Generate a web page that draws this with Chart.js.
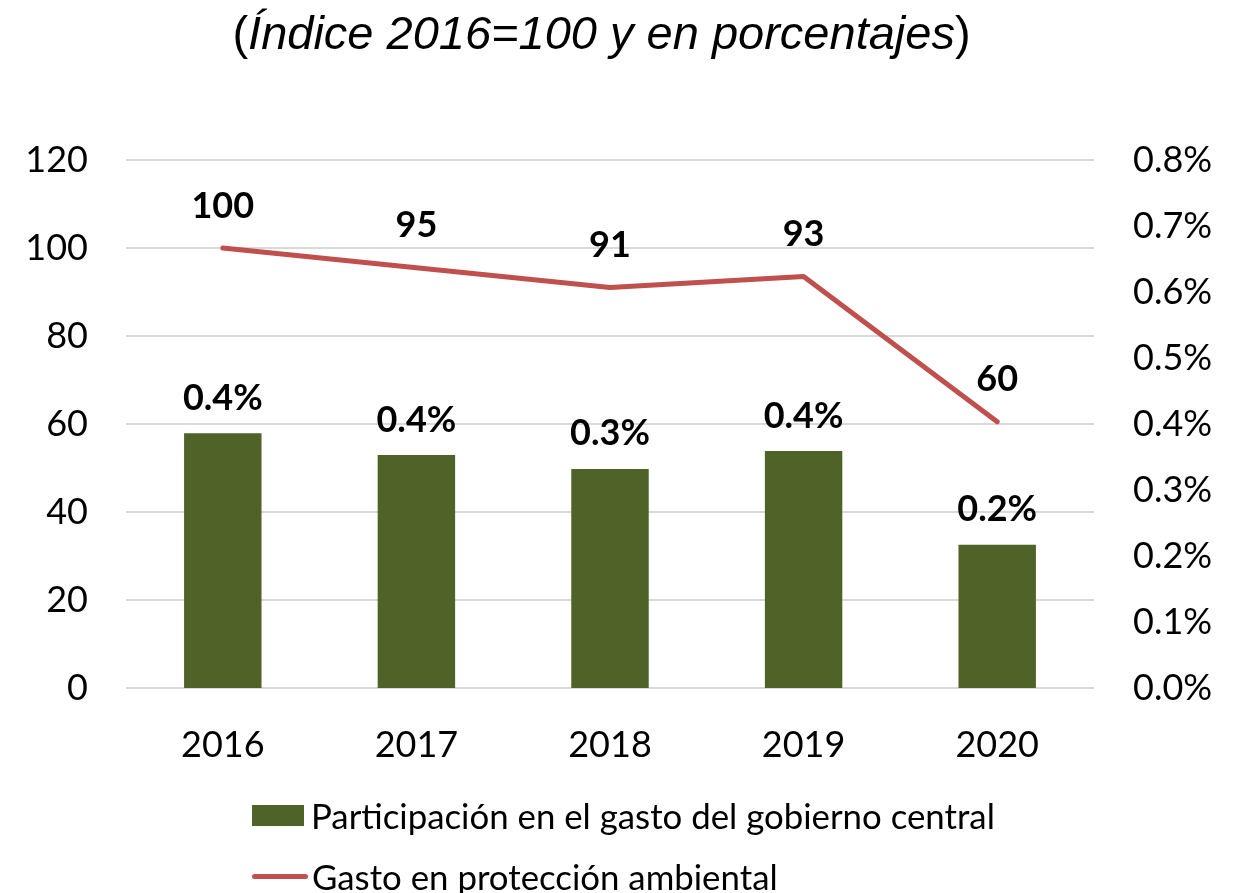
<!DOCTYPE html>
<html>
<head>
<meta charset="utf-8">
<script src="https://cdn.jsdelivr.net/npm/chart.js@4.4.1/dist/chart.umd.min.js"></script>
<style>
  html, body { margin: 0; padding: 0; background: #fff; }
  #wrap { position: relative; width: 1234px; height: 893px; overflow: hidden; }
  #c { position: absolute; left: 0; top: 0; }
  #title { position: absolute; left: 0; width: 1203px; top: 5px; text-align: center;
           font-family: "Liberation Sans", Arial, sans-serif; font-size: 47px; color: #000; white-space: nowrap; }
  #title i { font-style: italic; }
  .leg { position: absolute; left: 252px; font-family: Lato, "Noto Sans", sans-serif; font-size: 34.8px; color: #000;
         display: flex; align-items: center; white-space: nowrap; }
  .sw { display: inline-block; margin-right: 7px; }
</style>
</head>
<body>
<div id="wrap">
  <canvas id="c" width="1234" height="893"></canvas>
  <div id="title">(<i>Índice 2016=100 y en porcentajes</i>)</div>
  <div class="leg" id="leg1" style="top:794px;height:42px;"><span class="sw" style="width:52px;height:21px;background:#4F6228;"></span><span id="lt1"></span></div>
  <div class="leg" id="leg2" style="top:855px;height:42px;"><span class="sw" style="width:56px;height:5px;border-radius:3px;background:#C0504D;margin-right:4px;"></span><span id="lt2"></span></div>
</div>
<script>
const categories = ['2016', '2017', '2018', '2019', '2020'];
const barLabel = 'Participación en el gasto del gobierno central';
const lineLabel = 'Gasto en protección ambiental';
const shareValues = [0.386, 0.353, 0.332, 0.359, 0.217];     // % of central government spending
const shareLabels = ['0.4%', '0.4%', '0.3%', '0.4%', '0.2%'];
const indexValues = [100, 95.5, 91, 93.5, 60.5];              // index 2016=100
const indexLabels = ['100', '95', '91', '93', '60'];
const leftTicks = [0, 20, 40, 60, 80, 100, 120];
const rightTicks = [0, 0.1, 0.2, 0.3, 0.4, 0.5, 0.6, 0.7, 0.8];

document.getElementById('lt1').textContent = barLabel;
document.getElementById('lt2').textContent = lineLabel;

const TICK_FONT = { family: 'Lato, "Noto Sans", sans-serif', size: 36 };

const valueLabels = {
  id: 'valueLabels',
  afterDatasetsDraw(chart) {
    const ctx = chart.ctx;
    ctx.save();
    ctx.font = 'bold 36px Lato, "Noto Sans", sans-serif';
    ctx.fillStyle = '#000';
    ctx.textAlign = 'center';
    ctx.textBaseline = 'middle';
    chart.data.datasets.forEach((ds, di) => {
      const meta = chart.getDatasetMeta(di);
      meta.data.forEach((el, i) => {
        const off = ds.type === 'line' ? 42 : 35;
        ctx.fillText(ds.valueText[i], el.x, el.y - off);
      });
    });
    ctx.restore();
  }
};

new Chart(document.getElementById('c'), {
  data: {
    labels: categories,
    datasets: [
      {
        type: 'line', label: lineLabel, data: indexValues, valueText: indexLabels,
        yAxisID: 'yLeft', borderColor: '#C0504D', backgroundColor: '#C0504D',
        borderWidth: 5, pointRadius: 0, tension: 0, borderCapStyle: 'round', borderJoinStyle: 'round'
      },
      {
        type: 'bar', label: barLabel, data: shareValues, valueText: shareLabels,
        yAxisID: 'yRight', backgroundColor: '#4F6228',
        categoryPercentage: 1.0, barPercentage: 0.4
      }
    ]
  },
  options: {
    responsive: false,
    animation: false,
    layout: { padding: { top: 160, left: 0, right: 0, bottom: 0 } },
    plugins: { legend: { display: false }, tooltip: { enabled: false }, title: { display: false } },
    scales: {
      x: {
        grid: { display: false }, border: { display: false },
        ticks: { font: TICK_FONT, color: '#000', padding: 28 },
        afterFit(s) { s.height = 205; }
      },
      yLeft: {
        position: 'left', min: 0, max: 120,
        afterBuildTicks(s) { s.ticks = leftTicks.map(v => ({ value: v })); },
        grid: { color: '#D9D9D9', lineWidth: 2, drawTicks: false }, border: { display: false },
        ticks: { font: TICK_FONT, color: '#000', padding: 38 },
        afterFit(s) { s.width = 126; }
      },
      yRight: {
        position: 'right', min: 0, max: 0.8,
        afterBuildTicks(s) { s.ticks = rightTicks.map(v => ({ value: v })); },
        grid: { display: false, drawTicks: false }, border: { display: false },
        ticks: { font: TICK_FONT, color: '#000', padding: 39, callback: v => v.toFixed(1) + '%' },
        afterFit(s) { s.width = 140; }
      }
    }
  },
  plugins: [valueLabels]
});
</script>
</body>
</html>
